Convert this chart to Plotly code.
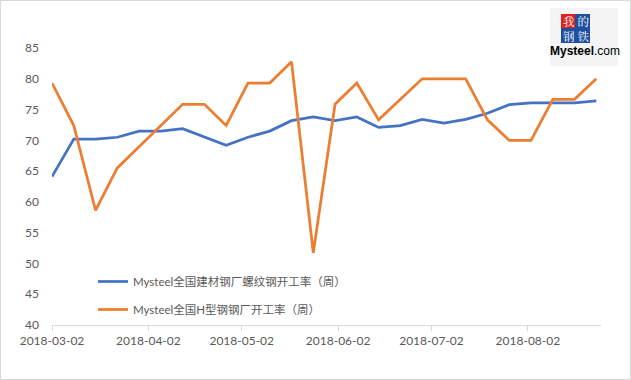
import plotly.graph_objects as go
import pandas as pd

dates = pd.date_range("2018-03-02", periods=26, freq="7D").strftime("%Y-%m-%d").tolist()

rebar_rate = [64.1, 70.2, 70.2, 70.5, 71.5, 71.5, 71.9, 70.6, 69.2, 70.5, 71.5, 73.2, 73.8,
              73.2, 73.8, 72.1, 72.4, 73.4, 72.8, 73.4, 74.4, 75.8, 76.1, 76.1, 76.1, 76.4]
hbeam_rate = [79.31, 72.41, 58.62, 65.52, 68.97, 72.41, 75.86, 75.86, 72.41, 79.31, 79.31, 82.76, 51.72,
              75.86, 79.31, 73.33, 76.67, 80.0, 80.0, 80.0, 73.33, 70.0, 70.0, 76.67, 76.67, 80.0]

series_names = ["Mysteel全国建材钢厂螺纹钢开工率（周）", "Mysteel全国H型钢钢厂开工率（周）"]
tick_dates = ["2018-03-02", "2018-04-02", "2018-05-02", "2018-06-02", "2018-07-02", "2018-08-02"]
y_ticks = [40, 45, 50, 55, 60, 65, 70, 75, 80, 85]

FONT = "Lato, 'Noto Sans CJK SC', sans-serif"
GREY = "#595959"

fig = go.Figure()
fig.add_trace(go.Scatter(x=dates, y=rebar_rate, mode="lines", name=series_names[0],
                         line=dict(color="#4472C4", width=2.75), legendgroup="a"))
fig.add_trace(go.Scatter(x=dates, y=hbeam_rate, mode="lines", name=series_names[1],
                         line=dict(color="#ED7D31", width=2.75), legendgroup="b"))

L, R, T, B = 52, 601, 48, 325
W, H = 631, 380
pw, ph = R - L, B - T

def px(x):
    return (x - L) / pw

def py(y):
    return (B - y) / ph

fig.update_layout(
    width=W, height=H,
    margin=dict(l=L, r=W - R, t=T, b=H - B),
    paper_bgcolor="white", plot_bgcolor="white",
    font=dict(family=FONT, color=GREY, size=12),
    showlegend=True,
    legend=dict(x=px(93), y=py(267), xanchor="left", yanchor="top",
                bgcolor="rgba(0,0,0,0)", font=dict(size=11.5, color=GREY, family=FONT),
                tracegroupgap=9),
    xaxis=dict(type="date", range=["2018-03-02", "2018-08-25 12:00"],
               tickvals=tick_dates, ticktext=tick_dates,
               showline=True, linecolor="#D9D9D9", linewidth=1,
               ticks="outside", ticklen=5, tickcolor="#D9D9D9",
               showgrid=False, zeroline=False, tickfont=dict(size=12, color=GREY)),
    yaxis=dict(range=[40, 85], tickvals=y_ticks, showgrid=False, zeroline=False,
               showline=False, ticks="", ticklabelstandoff=12,
               tickfont=dict(size=12, color=GREY)),
    shapes=[
        dict(type="rect", xref="paper", yref="paper",
             x0=px(0.5), x1=px(630.5), y0=py(379.5), y1=py(0.5),
             line=dict(color="#D9D9D9", width=1), fillcolor="rgba(0,0,0,0)", layer="below"),
        dict(type="rect", xref="paper", yref="paper",
             x0=px(550), x1=px(618), y0=py(66), y1=py(8),
             line=dict(width=0), fillcolor="#F4F4F4", layer="above"),
        dict(type="rect", xref="paper", yref="paper",
             x0=px(561), x1=px(575), y0=py(28), y1=py(14),
             line=dict(width=0), fillcolor="#E0201C", layer="above"),
        dict(type="rect", xref="paper", yref="paper",
             x0=px(575), x1=px(590), y0=py(28), y1=py(14),
             line=dict(width=0), fillcolor="#1F4FA0", layer="above"),
        dict(type="rect", xref="paper", yref="paper",
             x0=px(561), x1=px(575), y0=py(43), y1=py(28),
             line=dict(width=0), fillcolor="#1F4FA0", layer="above"),
        dict(type="rect", xref="paper", yref="paper",
             x0=px(575), x1=px(590), y0=py(43), y1=py(28),
             line=dict(width=0), fillcolor="#1F4FA0", layer="above"),
    ],
)

fig.add_annotation(text="我 的<br>钢 铁", xref="paper", yref="paper", x=px(575.5), y=py(28.5),
                   xanchor="center", yanchor="middle", showarrow=False, align="center",
                   font=dict(family="'Noto Serif CJK SC', 'Noto Sans CJK SC'", size=11.5, color="white"))
fig.add_annotation(text="<b>Mysteel</b>.com", xref="paper", yref="paper", x=px(585), y=py(51),
                   xanchor="center", yanchor="middle", showarrow=False,
                   font=dict(family="'Liberation Sans Narrow', 'Liberation Sans', Arial", size=12, color="black"))

fig.write_html("out.html", config={"displayModeBar": False},
               post_script="document.body.style.margin='0';")
